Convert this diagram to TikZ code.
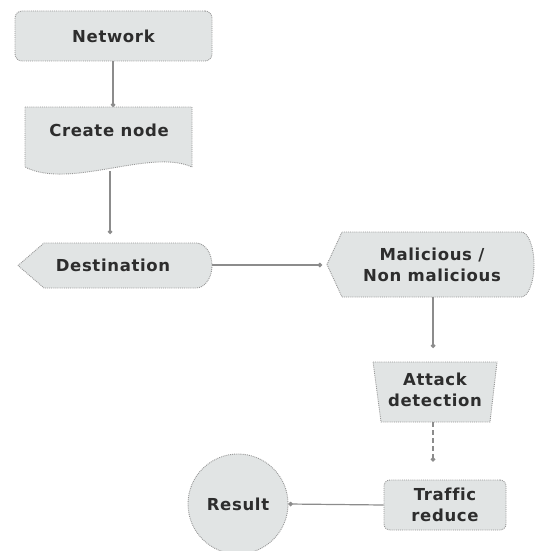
\documentclass[tikz,border=0pt]{standalone}
\usepackage{fontspec}
\newfontfamily\lab[LetterSpace=4,Ligatures={NoCommon}]{DejaVu Sans}
\usetikzlibrary{arrows.meta}
\definecolor{boxfill}{RGB}{225,228,228}
\definecolor{bord}{RGB}{150,150,150}
\definecolor{linec}{RGB}{140,140,140}
\definecolor{txt}{RGB}{45,45,45}
\begin{document}
\begin{tikzpicture}[x=1pt,y=-1pt,
  lbl/.style={font=\lab\bfseries\fontsize{16.5}{21}\selectfont, text=txt, align=center, inner sep=0pt},
  outl/.style={draw=bord, densely dotted, line width=0.9pt, fill=boxfill},
  conn/.style={draw=linec, line width=1.2pt, -{Circle[length=4.5pt]}},
]
\useasboundingbox (0,0) rectangle (535,551);

% Network
\node[outl, rounded corners=7pt, minimum width=197pt, minimum height=50pt, lbl] (net) at (113.5,36) {Network};

% Create node
\path[outl] (25,107) -- (192,107) -- (192,167) .. controls (150,148) and (70,190) .. (25,167) -- cycle;
\node[lbl] (cre) at (109,130) {Create node};
\coordinate (creT) at (113,107);
\coordinate (creB) at (110,171);

% Destination
\path[outl] (18,265.5) -- (44,243) -- (196,243) arc[start angle=-90, end angle=90, x radius=16, y radius=22.5] -- (44,288) -- cycle;
\node[lbl] (dest) at (113,265.5) {Destination};
\coordinate (destT) at (110,243);
\coordinate (destR) at (212,265);

% Malicious / Non malicious
\path[outl] (327,264.5) -- (342,232) -- (521,232) arc[start angle=-90, end angle=90, x radius=13, y radius=32.5] -- (342,297) -- cycle;
\node[lbl] (mal) at (432,264.5) {Malicious /\\Non malicious};
\coordinate (malL) at (327,265);
\coordinate (malB) at (433,297);

% Attack detection
\path[outl] (373,362) -- (497,362) -- (490,422) -- (381,422) -- cycle;
\node[lbl] (att) at (435,390) {Attack\\detection};
\coordinate (attT) at (433,362);
\coordinate (attB) at (433,422);

% Traffic reduce
\node[outl, rounded corners=6pt, minimum width=122pt, minimum height=50pt, lbl] (tra) at (445,505) {Traffic\\reduce};

% Result
\node[outl, circle, minimum size=100pt, lbl] (res) at (238,504) {Result};

% connectors
\draw[conn] (net.south -| creT) -- (creT);
\draw[conn, shorten >=9pt] (creB) -- (destT);
\draw[conn, shorten >=5pt] (destR) -- (malL);
\draw[conn, shorten >=14pt] (malB) -- (attT);
\draw[conn, dash pattern=on 5pt off 3pt, shorten >=18pt] (attB) -- (tra.north -| attB);
\draw[conn] (tra.west) -- (res.east);
\end{tikzpicture}
\end{document}
